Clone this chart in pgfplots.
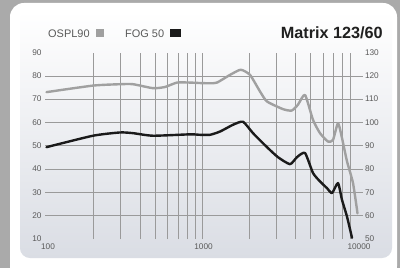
\documentclass[border=0pt]{standalone}
\usepackage{fontspec}
\setmainfont{Liberation Sans}
\usepackage{pgfplots}
\pgfplotsset{compat=1.18}
\definecolor{bggray}{HTML}{AAAAAA}
\definecolor{panelbot}{HTML}{DADDE4}
\definecolor{gridc}{HTML}{9A9A9A}
\definecolor{labc}{HTML}{5A5A5A}
\definecolor{osplc}{HTML}{A0A0A0}
\definecolor{fogc}{HTML}{1A1A1A}
\begin{document}
\begin{tikzpicture}[x=1bp,y=1bp]
% background
\fill[bggray] (0,0) rectangle (400,268);
\fill[white, rounded corners=14] (10,-12) rectangle (397,265);
\shade[top color=white, bottom color=panelbot, rounded corners=10] (20,10) rectangle (392,257);
% horizontal grid lines
\foreach \v in {20,30,...,80}{
  \pgfmathsetmacro{\yy}{29+(\v-10)*2.33125}
  \draw[gridc, line width=0.6] (45,\yy) -- (363,\yy);
}
% legend and title
\node[anchor=base west, inner sep=0, text=labc, font=\fontsize{11}{11}\selectfont] at (48,230.7) {OSPL90};
\fill[osplc] (95.7,230.7) rectangle (104.3,238.7);
\node[anchor=base west, inner sep=0, text=labc, font=\fontsize{11}{11}\selectfont] at (125,230.7) {FOG 50};
\fill[fogc] (170,230.7) rectangle (180.5,238.7);
\node[anchor=base east, inner sep=0, text=black!88, font=\fontsize{16.3}{16.3}\selectfont\bfseries] at (383,229.7) {Matrix 123/60};
% left axis: FOG 50
\begin{axis}[
  at={(46.5bp,29bp)}, anchor=south west,
  scale only axis, width=311bp, height=186.5bp,
  xmode=log, xmin=100, xmax=10000, ymin=10, ymax=90,
  clip=false,
  axis line style={draw=none},
  major tick length=0pt, minor tick length=0pt,
  xtick={100,1000,10000}, xticklabels={100,1000,10000},
  minor xtick={200,300,400,500,600,700,800,900,1000,2000,3000,4000,5000,6000,7000,8000,9000},
  xminorgrids=true,
  minor grid style={gridc, line width=0.6bp},
  ytick={10,20,30,40,50,60,70,80,90},
  /pgf/number format/assume math mode=true,
  xticklabel style={font=\fontsize{8.3}{9}\selectfont, text=labc, yshift=-1.5bp, xshift=1.5bp},
  yticklabel style={font=\fontsize{8.3}{9}\selectfont, text=labc, xshift=-1.5bp},
]
\addplot[fogc, line width=2.4bp, smooth, tension=0.35, line join=round, line cap=round] coordinates {
(100,49.4) (199,54.3) (297,55.7) (360,55.4) (484,54.3) (837,54.9) (971,54.7) (1126,54.7)
(1306,56.1) (1583,59.0) (1835,60.3) (2128,55.4) (2618,49.4) (3080,45.1) (3680,42.1)
(4080,45.1) (4596,46.9) (5174,38.3) (5740,34.7) (6367,31.8) (6856,29.7) (7492,34.0)
(7950,26.8) (8561,19.6) (9218,10.5)
};
\end{axis}
% right axis: OSPL90
\begin{axis}[
  at={(46.5bp,29bp)}, anchor=south west,
  scale only axis, width=311bp, height=186.5bp,
  xmode=log, xmin=100, xmax=10000, ymin=50, ymax=130,
  clip=false,
  axis line style={draw=none},
  major tick length=0pt, minor tick length=0pt,
  xtick=\empty,
  axis y line*=right,
  ytick={50,60,70,80,90,100,110,120,130},
  /pgf/number format/assume math mode=true,
  yticklabel style={font=\fontsize{8.3}{9}\selectfont, text=labc, xshift=4bp},
]
\addplot[osplc, line width=2.4bp, smooth, tension=0.35, line join=round, line cap=round] coordinates {
(100,113.0) (199,115.8) (297,116.4) (360,116.4) (484,114.7) (578,115.2) (691,117.1)
(837,117.1) (971,116.9) (1126,116.8) (1249,117.1) (1514,120.4) (1774,122.6) (2035,120.4)
(2360,113.3) (2618,109.0) (3320,105.7) (3775,105.1) (4140,107.6) (4596,111.8) (5174,101.1)
(5740,95.4) (6462,91.8) (6958,92.5) (7492,99.7) (7950,93.3) (8561,83.3) (9354,74.0) (10000,61.0)
};
\end{axis}
\pgfresetboundingbox
\useasboundingbox (0,0) rectangle (400,268);
\end{tikzpicture}
\end{document}
